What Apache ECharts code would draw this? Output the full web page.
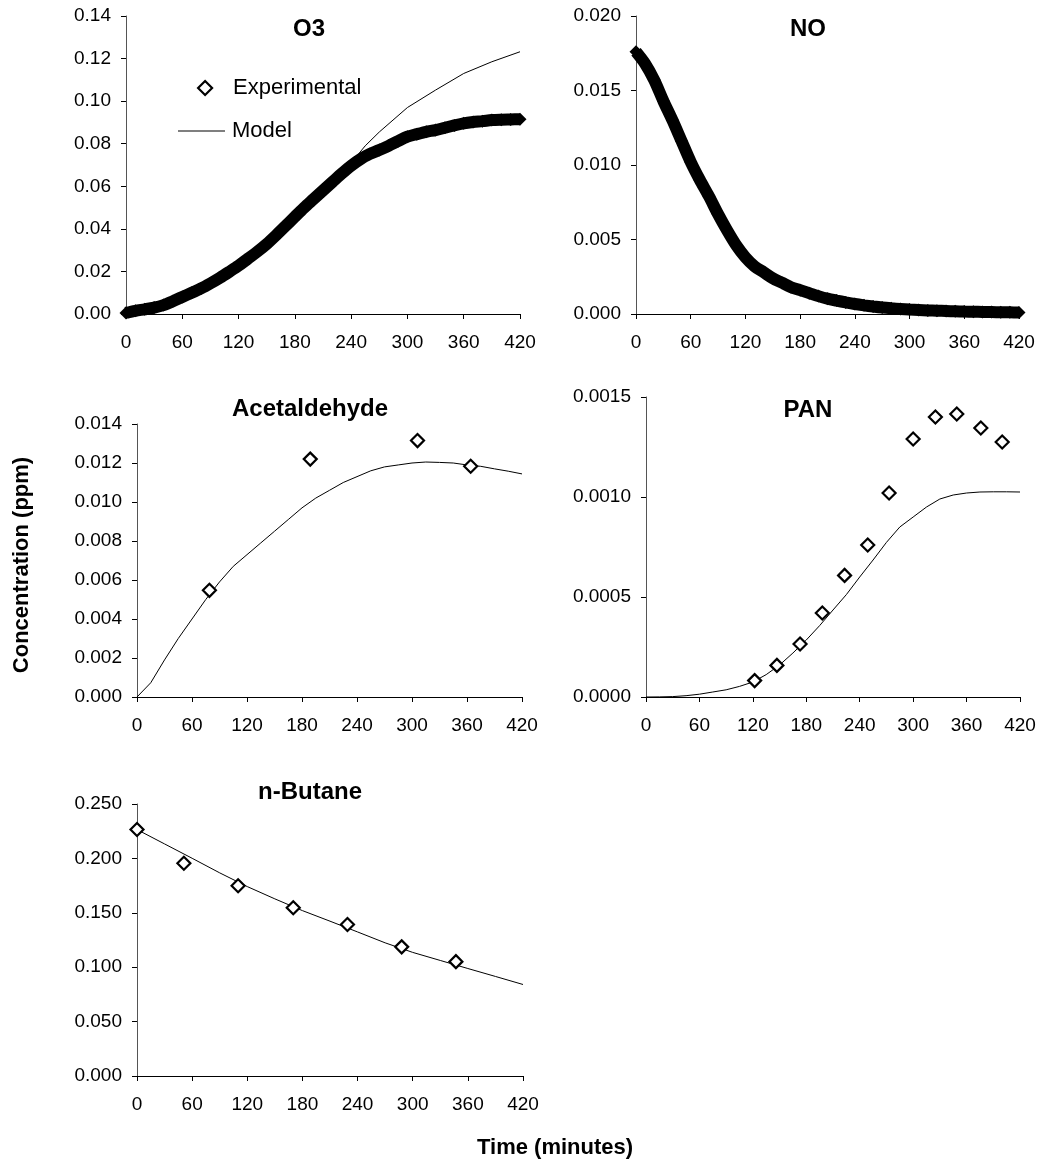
<!DOCTYPE html>
<html>
<head>
<meta charset="utf-8">
<script src="https://cdn.jsdelivr.net/npm/echarts@6/dist/echarts.min.js"></script>
<style>
  html, body { margin: 0; padding: 0; background: #fff; }
  #chart { width: 1041px; height: 1165px; }
</style>
</head>
<body>
<div id="chart"></div>
<script>
// time axis values (minutes)
const expTime = [0,10,20,30,40,50,60,70,80,90,100,110,120,130,140,150,160,170,180,190,200,
  210,220,230,240,250,260,270,280,290,300,310,320,330,340,350,360,370,380,390,400,410,420];
const modelTime15 = [0,15,30,45,60,75,90,105,120,135,150,165,180,195,210,225,240,255,270,285,
  300,315,330,345,360,375,390,405,420];
const xTicks = [0,60,120,180,240,300,360,420];

// O3
const o3Exp = [0.0005,0.0015,0.0022,0.003,0.0042,0.006,0.008,0.010,0.012,0.0144,0.017,0.0198,
  0.0227,0.026,0.0293,0.0329,0.037,0.0413,0.0457,0.050,0.054,0.058,0.062,0.066,0.0697,0.0728,
  0.0752,0.077,0.079,0.0812,0.0833,0.0845,0.0856,0.0864,0.0875,0.0886,0.0896,0.0902,0.0906,
  0.0911,0.0913,0.0914,0.0915];
const o3ModelTime = [0,30,60,90,120,150,180,210,240,255,270,300,330,360,390,420];
const o3Model = [0,0.002,0.007,0.0135,0.022,0.032,0.045,0.058,0.071,0.079,0.0855,0.097,0.1052,
  0.113,0.1185,0.1232];

// NO
const noExp = [0.0176,0.0168,0.0157,0.0143,0.0130,0.0116,0.0102,0.0090,0.0079,0.0067,0.0056,
  0.0046,0.0038,0.0032,0.0028,0.0024,0.0021,0.0018,0.0016,0.0014,0.0012,0.00103,0.0009,0.00078,
  0.00067,0.00058,0.0005,0.00043,0.00038,0.00034,0.0003,0.00027,0.00024,0.00022,0.0002,0.00018,
  0.00016,0.00015,0.00014,0.00013,0.00012,0.00011,0.0001];

// Acetaldehyde
const acetExpTime = [79,189,306,364];
const acetExp = [0.00547,0.0122,0.01315,0.01183];
const acetModel = [0,0.00073,0.0019,0.003,0.004,0.005,0.0059,0.0067,0.0073,0.0079,0.0085,0.0091,
  0.0097,0.0102,0.0106,0.011,0.0113,0.0116,0.0118,0.0119,0.012,0.01205,0.01203,0.012,0.0119,
  0.01183,0.0117,0.01158,0.01144];

// PAN
const panExpTime = [122,147,173,198,223,249,273,300,325,349,376,400];
const panExp = [0.000082,0.000158,0.000265,0.00042,0.000608,0.00076,0.00102,0.00129,0.0014,
  0.001415,0.001345,0.001275];
const panModel = [0,0.0000005,0.000002,0.0000065,0.000014,0.000025,0.000036,0.000053,0.000075,
  0.000112,0.00016,0.00022,0.000285,0.000357,0.000435,0.000512,0.0006,0.000685,0.000773,0.00085,
  0.0009,0.00095,0.00099,0.00101,0.00102,0.001025,0.001026,0.001026,0.001025];

// n-Butane
const butExpTime = [0,51,110,170,229,288,347];
const butExp = [0.2265,0.1955,0.1748,0.1547,0.1392,0.1187,0.1051];
const butModelTime = [0,30,60,90,120,150,180,210,240,270,300,330,360,390,420];
const butModel = [0.2265,0.2133,0.2001,0.1867,0.1741,0.1628,0.152,0.1423,0.1324,0.1224,0.1136,
  0.1062,0.0988,0.0915,0.0841];

const FONT = "'Liberation Sans', Arial, sans-serif";
const zip = (xs, ys) => xs.map((x, i) => [x, ys[i]]);

const panels = [
  { title: 'O3', tx: 309, ty: 29, grid: { left: 126, top: 16, width: 394, height: 298 }, max: 0.14, step: 0.02, dec: 2 },
  { title: 'NO', tx: 808, ty: 29, grid: { left: 636, top: 16, width: 383, height: 298 }, max: 0.02, step: 0.005, dec: 3 },
  { title: 'Acetaldehyde', tx: 310, ty: 409, grid: { left: 137, top: 424, width: 385, height: 273 }, max: 0.014, step: 0.002, dec: 3 },
  { title: 'PAN', tx: 808, ty: 410, grid: { left: 646, top: 397, width: 374, height: 300 }, max: 0.0015, step: 0.0005, dec: 4 },
  { title: 'n-Butane', tx: 310, ty: 792, grid: { left: 137, top: 804, width: 386, height: 272 }, max: 0.25, step: 0.05, dec: 3 },
];

const chart = echarts.init(document.getElementById('chart'));

const tick = { show: true, length: 5, lineStyle: { color: '#000', width: 1 } };

const grid = panels.map(p => Object.assign({ containLabel: false, outerBoundsMode: 'none' }, p.grid));
const xAxis = panels.map((p, i) => ({
  type: 'value', gridIndex: i, min: xTicks[0], max: xTicks[xTicks.length - 1], interval: 60,
  axisLine: { show: true, lineStyle: { color: '#000', width: 1 } },
  axisTick: tick, splitLine: { show: false },
  axisLabel: { color: '#000', fontSize: 19, fontFamily: FONT, margin: 19 },
}));
const yAxis = panels.map((p, i) => ({
  type: 'value', gridIndex: i, min: 0, max: p.max, interval: p.step,
  axisLine: { show: true, lineStyle: { color: '#555', width: 1 } },
  axisTick: tick, splitLine: { show: false },
  axisLabel: { color: '#000', fontSize: 19, fontFamily: FONT, margin: 15,
    formatter: v => v.toFixed(p.dec) },
}));

// dense experimental record: drawn as a thick band of diamonds
const band = (i, data) => ({
  name: 'Experimental', type: 'line', xAxisIndex: i, yAxisIndex: i, data,
  smooth: 0.3, symbol: 'diamond', symbolSize: 13, showSymbol: true,
  itemStyle: { color: '#000' }, lineStyle: { color: '#000', width: 12 },
  z: 3, animation: false,
});
const model = (i, data) => ({
  name: 'Model', type: 'line', xAxisIndex: i, yAxisIndex: i, data,
  symbol: 'none', lineStyle: { color: '#000', width: 1 }, z: 2, animation: false,
});
const dots = (i, data) => ({
  name: 'Experimental', type: 'scatter', xAxisIndex: i, yAxisIndex: i, data,
  symbol: 'diamond', symbolSize: 13,
  itemStyle: { color: '#fff', borderColor: '#000', borderWidth: 2.2, opacity: 1 },
  z: 4, animation: false,
});

const series = [
  model(0, zip(o3ModelTime, o3Model)),
  band(0, zip(expTime, o3Exp)),
  band(1, zip(expTime, noExp)),
  model(2, zip(modelTime15, acetModel)),
  dots(2, zip(acetExpTime, acetExp)),
  model(3, zip(modelTime15, panModel)),
  dots(3, zip(panExpTime, panExp)),
  model(4, zip(butModelTime, butModel)),
  dots(4, zip(butExpTime, butExp)),
];

const boldText = (text, x, y, size, align) => ({
  type: 'text', x, y,
  style: { text, fill: '#000', font: 'bold ' + size + 'px ' + FONT, align: align || 'center', verticalAlign: 'middle' },
});

chart.setOption({
  animation: false,
  grid, xAxis, yAxis, series,
  legend: [
    {
      data: [{ name: 'Experimental', icon: 'diamond',
        itemStyle: { color: '#fff', borderColor: '#000', borderWidth: 2.2 } }],
      left: 197, top: 77, padding: 0, itemWidth: 14, itemHeight: 14, selectedMode: false,
      textStyle: { color: '#000', fontSize: 22, fontFamily: FONT, padding: [0, 0, 0, 16] },
    },
    {
      data: [{ name: 'Model', icon: 'rect', itemStyle: { color: '#000' } }],
      left: 178, top: 120, padding: 0, itemWidth: 47, itemHeight: 1, selectedMode: false,
      textStyle: { color: '#000', fontSize: 22, fontFamily: FONT, padding: [0, 0, 0, 2] },
    },
  ],
  graphic: [
    ...panels.map(p => boldText(p.title, p.tx, p.ty, 24)),
    Object.assign(boldText('Concentration (ppm)', 22, 565, 22), { rotation: Math.PI / 2 }),
    boldText('Time (minutes)', 477, 1148, 22, 'left'),
  ],
});
</script>
</body>
</html>
